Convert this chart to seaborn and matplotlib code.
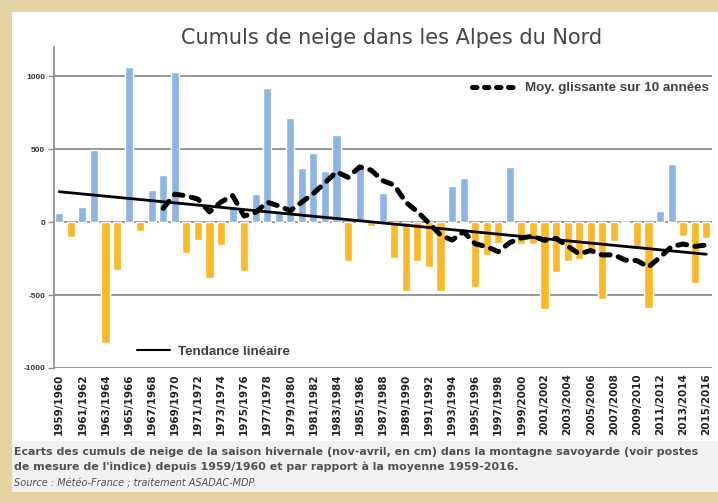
import matplotlib.pyplot as plt
import matplotlib.patches as mpatches
from matplotlib.lines import Line2D
import numpy as np
import pandas as pd
import seaborn as sns

# Seasons 1959/1960 -> 2015/2016
start_years = list(range(1959, 2016))
seasons = [f"{y}/{y + 1}" for y in start_years]

# Snow cumul anomalies (cm)
ecarts = [60, -100, 105, 495, -830, -330, 1065, -60, 220, 320,
          1030, -215, -120, -380, -155, 110, -335, 190, 920, 60,
          710, 370, 475, 350, 595, -270, 380, -30, 200, -245,
          -470, -270, -310, -470, 250, 300, -445, -225, -145, 380,
          -150, -150, -595, -340, -265, -250, -210, -530, -130, 15,
          -185, -590, 75, 395, -95, -415, -110]

blue = "#8DB4E2"
orange = "#FBB829"
beige = "#E6D3A3"

df = pd.DataFrame({"saison": seasons, "ecart": ecarts})
df["signe"] = np.where(df["ecart"] >= 0, "pos", "neg")
df["idx"] = np.arange(len(df))
df["moy10"] = df["ecart"].rolling(10).mean()
coef = np.polyfit(df["idx"], df["ecart"], 1)
df["tendance"] = np.polyval(coef, df["idx"])

sns.set_style("white")
fig = plt.figure(figsize=(7.18, 5.03), dpi=100, facecolor=beige)

# white panel + grey caption band
fig.patches.append(mpatches.Rectangle((12 / 718, 1 - 441 / 503), 1, 429 / 503,
                                      transform=fig.transFigure, facecolor="white",
                                      edgecolor="none", zorder=-10))
fig.patches.append(mpatches.Rectangle((12 / 718, 1 - 492 / 503), 1, 51 / 503,
                                      transform=fig.transFigure, facecolor="#F1F1F1",
                                      edgecolor="none", zorder=-10))

ax = fig.add_axes([53.5 / 718, 1 - 368 / 503, (712 - 53.5) / 718, (368 - 47) / 503])
ax.set_zorder(5)
ax.set_facecolor("none")

sns.barplot(data=df, x="saison", y="ecart", hue="signe",
            palette={"pos": blue, "neg": orange}, dodge=False, saturation=1,
            width=0.7, legend=False, ax=ax, zorder=2)

ax.plot(df["idx"], df["tendance"], color="black", lw=2, zorder=4)
ax.plot(df["idx"], df["moy10"], color="black", lw=3.6, ls=(0, (1.8, 1.7)),
        dash_capstyle="round", zorder=5)

ax.set_xlim(-0.5, len(df) - 0.5)
ax.set_ylim(-1000, 1200)
ax.set_yticks([-1000, -500, 0, 500, 1000])
ax.set_yticklabels(["-1000", "-500", "0", "500", "1000"],
                   fontsize=6, fontweight="bold", family="Liberation Sans", color="#333333")
ax.yaxis.grid(True, color="#8C8C8C", lw=1.3, zorder=1)
ax.set_axisbelow(True)
ax.tick_params(axis="y", left=True, length=4, width=1, color="#8C8C8C", pad=2)

ax.set_xticks(range(0, len(df), 2))
ax.set_xticklabels(seasons[::2], rotation=90, fontsize=7.5, fontweight="bold",
                   color="#222222")
ax.tick_params(axis="x", length=0, pad=4)
ax.set_xlabel("")
ax.set_ylabel("")

for s in ["top", "right", "bottom"]:
    ax.spines[s].set_visible(False)
ax.spines["left"].set_color("#8C8C8C")
ax.spines["left"].set_linewidth(1.2)

# legends
leg_font = {"family": "Liberation Sans", "weight": "bold", "size": 9.6}
h_moy = Line2D([], [], color="black", lw=3.6, ls=(0, (0.9, 1.5)), dash_capstyle="round")
leg1 = ax.legend([h_moy], ["Moy. glissante sur 10 années"], loc="center left",
                 bbox_to_anchor=(0.636, 0.872), frameon=False, borderpad=0,
                 borderaxespad=0, handlelength=3.2, handletextpad=0.75,
                 prop=leg_font)
for t in leg1.get_texts():
    t.set_color("#404040")
ax.add_artist(leg1)

h_tend = Line2D([], [], color="black", lw=1.5)
leg2 = ax.legend([h_tend], ["Tendance linéaire"], loc="center left",
                 bbox_to_anchor=(0.127, 0.05), frameon=False, borderpad=0,
                 borderaxespad=0, handlelength=2.5, handletextpad=0.6,
                 prop=leg_font)
for t in leg2.get_texts():
    t.set_color("#404040")

fig.text(0.545, 1 - 38 / 503, "Cumuls de neige dans les Alpes du Nord",
         ha="center", va="center", fontsize=15, color="#444444")

fig.text(14 / 718, 1 - 452 / 503,
         "Ecarts des cumuls de neige de la saison hivernale (nov-avril, en cm) dans la montagne savoyarde (voir postes",
         ha="left", va="center", fontsize=7.95, fontweight="bold", color="#505050")
fig.text(14 / 718, 1 - 467 / 503,
         "de mesure de l'indice) depuis 1959/1960 et par rapport à la moyenne 1959-2016.",
         ha="left", va="center", fontsize=7.95, fontweight="bold", color="#505050")
fig.text(14 / 718, 1 - 483 / 503, "Source : Météo-France ; traitement ASADAC-MDP.",
         ha="left", va="center", fontsize=7, style="italic", color="#505050")

fig.savefig("out.png", dpi=100, facecolor=fig.get_facecolor())
